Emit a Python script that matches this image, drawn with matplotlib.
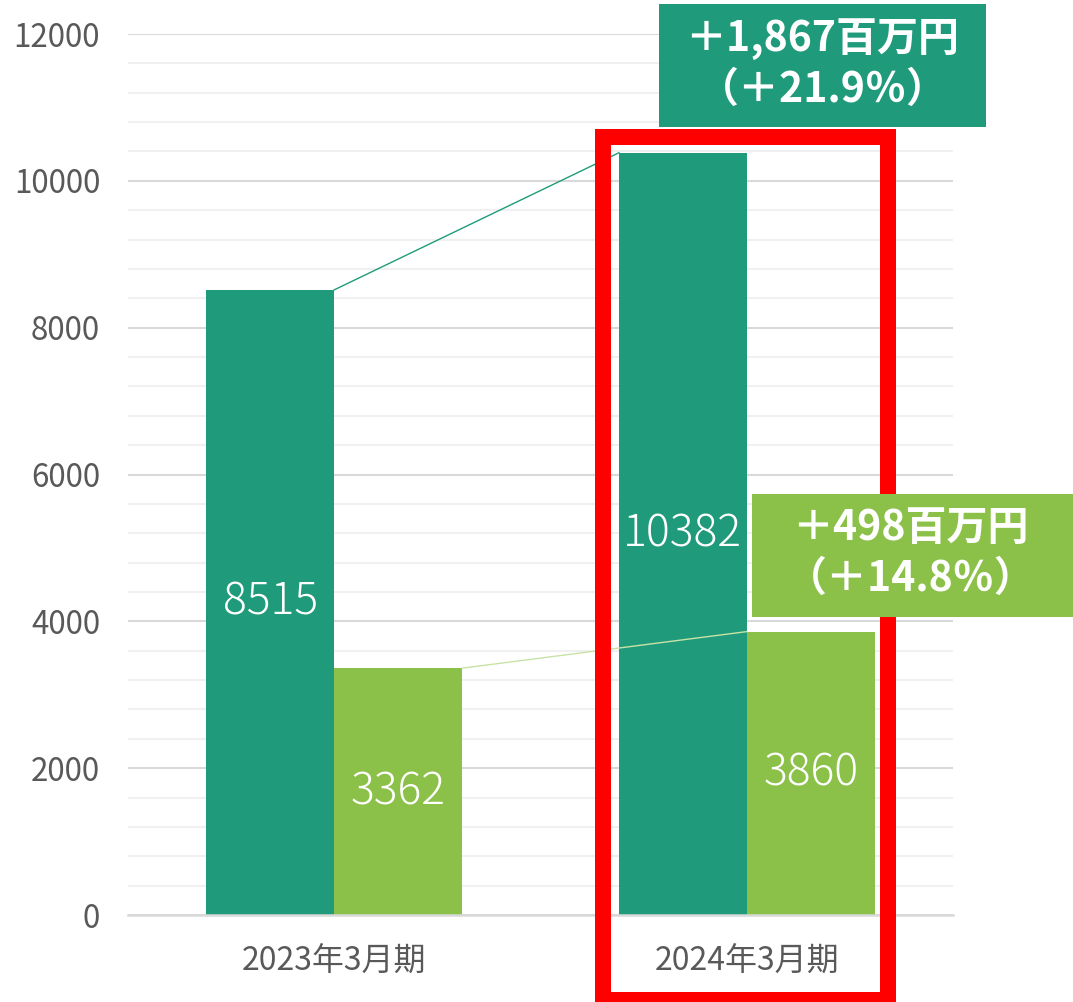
import matplotlib
matplotlib.use("Agg")
import matplotlib.pyplot as plt
from matplotlib.patches import Rectangle
import numpy as np

plt.rcParams['font.family'] = ['Noto Sans CJK JP', 'DejaVu Sans']

categories = ["2023年3月期", "2024年3月期"]
series_a = [8515, 10382]   # dark green
series_b = [3362, 3860]    # light green
diff_a_text = ["＋1,867百万円", "（＋21.9％）"]
diff_b_text = ["＋498百万円", "（＋14.8％）"]
y_ticks = [0, 2000, 4000, 6000, 8000, 10000, 12000]

DARK = "#1f9b7b"
LIGHT = "#8cc149"

W, H = 1073, 1002
fig = plt.figure(figsize=(W / 100, H / 100), dpi=100)
ax = fig.add_axes([128 / W, (H - 915) / H, (953 - 128) / W, (915 - 34) / H])

x = np.arange(len(categories))
w = 0.31
ax.bar(x - w / 2, series_a, width=w, color=DARK, zorder=3)
ax.bar(x + w / 2, series_b, width=w, color=LIGHT, zorder=3)

# connector lines
ax.plot([x[0], x[1] - w], [series_a[0], series_a[1]], color=DARK, lw=1, zorder=4)
ax.plot([x[0] + w, x[1]], [series_b[0], series_b[1]], color="#c9e2a6", lw=1, zorder=4)

# data labels
for i in range(len(categories)):
    ax.text(x[i] - w / 2, series_a[i] / 2, str(series_a[i]), ha="center", va="center",
            color="white", fontsize=32, fontweight="light", zorder=5)
    ax.text(x[i] + w / 2, series_b[i] / 2, str(series_b[i]), ha="center", va="center",
            color="white", fontsize=32, fontweight="light", zorder=5)

ax.set_xlim(-0.5, 1.5)
ax.set_ylim(0, 12000)
ax.set_yticks(y_ticks)
ax.set_yticklabels([str(v) for v in y_ticks])
ax.set_yticks(np.arange(0, 12001, 400), minor=True)
ax.grid(axis="y", which="major", color="#d9d9d9", lw=1.5, zorder=0)
ax.grid(axis="y", which="minor", color="#f0f0f0", lw=1.5, zorder=0)
ax.set_xticks(x)
ax.set_xticklabels(categories)
ax.tick_params(axis="both", which="both", length=0, colors="#595959")
ax.tick_params(axis="y", labelsize=22.5, pad=20)
ax.tick_params(axis="x", labelsize=23, pad=22)
for s in ["top", "right", "left"]:
    ax.spines[s].set_visible(False)
ax.spines["bottom"].set_color("#d9d9d9")
ax.spines["bottom"].set_linewidth(1.8)
ax.spines["bottom"].set_zorder(4)

# red highlight rectangle (figure pixels)
def fx(px):
    return px / W

def fy(py):
    return (H - py) / H

red = Rectangle((fx(603), fy(1000)), fx(888) - fx(603), fy(136.5) - fy(1000),
                transform=fig.transFigure, fill=False, edgecolor="#ff0000",
                lw=16 * 0.72, joinstyle="miter", zorder=10)
fig.patches.append(red)

# annotation boxes
box1 = Rectangle((fx(659), fy(127)), fx(986) - fx(659), fy(4) - fy(127),
                 transform=fig.transFigure, facecolor=DARK, edgecolor="none", zorder=11)
box2 = Rectangle((fx(752), fy(617)), fx(1073) - fx(752), fy(494) - fy(617),
                 transform=fig.transFigure, facecolor=LIGHT, edgecolor="none", zorder=11)
fig.patches.append(box1)
fig.patches.append(box2)

cx1 = (659 + 986) / 2
fig.text(fx(cx1), fy(39), diff_a_text[0], ha="center", va="center", color="white",
         fontsize=29.5, fontweight="bold", zorder=12)
fig.text(fx(cx1), fy(90), diff_a_text[1], ha="center", va="center", color="white",
         fontsize=29.5, fontweight="bold", zorder=12)
cx2 = (752 + 1073) / 2
fig.text(fx(cx2 - 2), fy(528), diff_b_text[0], ha="center", va="center", color="white",
         fontsize=29.5, fontweight="bold", zorder=12)
fig.text(fx(cx2 - 2), fy(579), diff_b_text[1], ha="center", va="center", color="white",
         fontsize=29.5, fontweight="bold", zorder=12)

fig.savefig("out.png", dpi=100)
